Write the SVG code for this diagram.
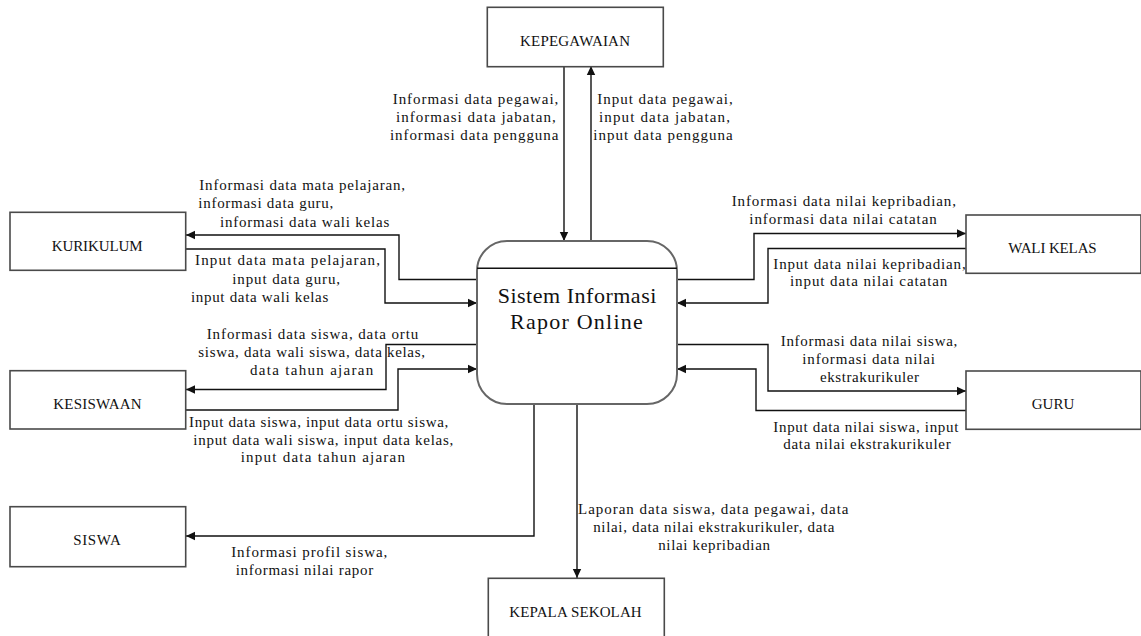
<svg xmlns="http://www.w3.org/2000/svg" width="1141" height="636" viewBox="0 0 1141 636">
<style>
.box{fill:#fff;stroke:#4a4a4a;stroke-width:1.6}
.proc{fill:#fff;stroke:#666;stroke-width:2}
.bl{font-family:"Liberation Serif",serif;font-size:15px;fill:#111;text-anchor:middle}
.lb{font-family:"Liberation Serif",serif;font-size:15px;fill:#111}
.ct{font-family:"Liberation Serif",serif;font-size:22px;fill:#111;text-anchor:middle}
.cn{fill:none;stroke:#111;stroke-width:1.4}
</style>
<defs>
<marker id="ah" markerWidth="10" markerHeight="10" refX="9" refY="5" orient="auto" markerUnits="userSpaceOnUse">
<path d="M0,0.8 L9,5 L0,9.2 Z" fill="#111"/>
</marker>
</defs>
<rect width="1141" height="636" fill="#fff"/>

<g id="connectors">
<path class="cn" d="M564,66 V241" marker-end="url(#ah)"/>
<path class="cn" d="M591,241 V66" marker-end="url(#ah)"/>
<path class="cn" d="M477,279.5 H399 V235 H186" marker-end="url(#ah)"/>
<path class="cn" d="M186,249 H385 V303 H477" marker-end="url(#ah)"/>
<path class="cn" d="M477,344.5 H386 V389.5 H186" marker-end="url(#ah)"/>
<path class="cn" d="M186,410 H398 V369 H477" marker-end="url(#ah)"/>
<path class="cn" d="M677,279.5 H754 V233.5 H966" marker-end="url(#ah)"/>
<path class="cn" d="M966,248.5 H768 V303 H677" marker-end="url(#ah)"/>
<path class="cn" d="M677,344.5 H768 V391 H966" marker-end="url(#ah)"/>
<path class="cn" d="M966,410.5 H756 V369 H677" marker-end="url(#ah)"/>
<path class="cn" d="M534,404 V536 H186" marker-end="url(#ah)"/>
<path class="cn" d="M577,404 V578" marker-end="url(#ah)"/>
</g>

<g id="labels">
<text class="lb" x="392.7" y="104" textLength="165.6">Informasi data pegawai,</text>
<text class="lb" x="396" y="122" textLength="159.7">informasi data jabatan,</text>
<text class="lb" x="390" y="140" textLength="168.3">informasi data pengguna</text>
<text class="lb" x="597.3" y="104" textLength="135.4">Input data pegawai,</text>
<text class="lb" x="599" y="122" textLength="131">input data jabatan,</text>
<text class="lb" x="593.3" y="140" textLength="139.4">input data pengguna</text>

<text class="lb" x="199.3" y="190" textLength="205.7">Informasi data mata pelajaran,</text>
<text class="lb" x="198.3" y="208" textLength="135">informasi data guru,</text>
<text class="lb" x="220" y="226.5" textLength="169.3">informasi data wali kelas</text>
<text class="lb" x="195" y="265" textLength="185">Input data mata pelajaran,</text>
<text class="lb" x="232.3" y="283.5" textLength="107.7">input data guru,</text>
<text class="lb" x="191" y="301.5" textLength="137.3">input data wali kelas</text>

<text class="lb" x="206.7" y="338.5" textLength="211.6">Informasi data siswa, data ortu</text>
<text class="lb" x="198.3" y="357" textLength="226.7">siswa, data wali siswa, data kelas,</text>
<text class="lb" x="250" y="375" textLength="123.3">data tahun ajaran</text>
<text class="lb" x="189" y="427" textLength="259.3">Input data siswa, input data ortu siswa,</text>
<text class="lb" x="193.3" y="444.5" textLength="260">input data wali siswa, input data kelas,</text>
<text class="lb" x="240.7" y="462" textLength="164.3">input data tahun ajaran</text>

<text class="lb" x="731.7" y="206" textLength="224.3">Informasi data nilai kepribadian,</text>
<text class="lb" x="749.3" y="223.5" textLength="187.4">informasi data nilai catatan</text>
<text class="lb" x="773.3" y="268.5" textLength="192.4">Input data nilai kepribadian,</text>
<text class="lb" x="790" y="286" textLength="157.3">input data nilai catatan</text>

<text class="lb" x="780.7" y="346" textLength="176.6">Informasi data nilai siswa,</text>
<text class="lb" x="802.3" y="364" textLength="132.7">informasi data nilai</text>
<text class="lb" x="820" y="382" textLength="99">ekstrakurikuler</text>
<text class="lb" x="773.3" y="431.5" textLength="185">Input data nilai siswa, input</text>
<text class="lb" x="783.3" y="449" textLength="167.4">data nilai ekstrakurikuler</text>

<text class="lb" x="231.2" y="556.5" textLength="156">Informasi profil siswa,</text>
<text class="lb" x="235.7" y="575" textLength="137.5">informasi nilai rapor</text>

<text class="lb" x="578" y="513.5" textLength="270.5">Laporan data siswa, data pegawai, data</text>
<text class="lb" x="593.2" y="531.5" textLength="241.3">nilai, data nilai ekstrakurikuler, data</text>
<text class="lb" x="658.2" y="550" textLength="111.8">nilai kepribadian</text>
</g>

<g id="sistem">
<rect class="proc" x="477" y="241" width="200" height="163" rx="30" ry="30"/>
<line x1="477" y1="268.3" x2="677" y2="268.3" stroke="#111" stroke-width="1.4"/>
<text class="ct" x="577" y="302.7" textLength="158.7">Sistem Informasi</text>
<text class="ct" x="576.4" y="329" textLength="132.7">Rapor Online</text>
</g>

<g id="kepegawaian">
<rect class="box" x="487.3" y="7.3" width="176" height="59.4"/>
<text class="bl" x="575" y="46" textLength="110">KEPEGAWAIAN</text>
</g>
<g id="kurikulum">
<rect class="box" x="10" y="212.3" width="175.7" height="58"/>
<text class="bl" x="97.2" y="250.7" textLength="91">KURIKULUM</text>
</g>
<g id="kesiswaan">
<rect class="box" x="10" y="370.7" width="175.7" height="58.3"/>
<text class="bl" x="97.5" y="409.3" textLength="88.4">KESISWAAN</text>
</g>
<g id="siswa">
<rect class="box" x="10" y="506.7" width="175.7" height="60"/>
<text class="bl" x="97" y="545" textLength="47.6">SISWA</text>
</g>
<g id="wali-kelas">
<rect class="box" x="966" y="215" width="175" height="58.3"/>
<text class="bl" x="1052.5" y="252.7" textLength="88.4">WALI KELAS</text>
</g>
<g id="guru">
<rect class="box" x="966" y="371" width="175" height="58.3"/>
<text class="bl" x="1053" y="409" textLength="42.6">GURU</text>
</g>
<g id="kepala-sekolah">
<rect class="box" x="488.3" y="578.3" width="176" height="70"/>
<text class="bl" x="575.5" y="616.7" textLength="132.4">KEPALA SEKOLAH</text>
</g>
</svg>
